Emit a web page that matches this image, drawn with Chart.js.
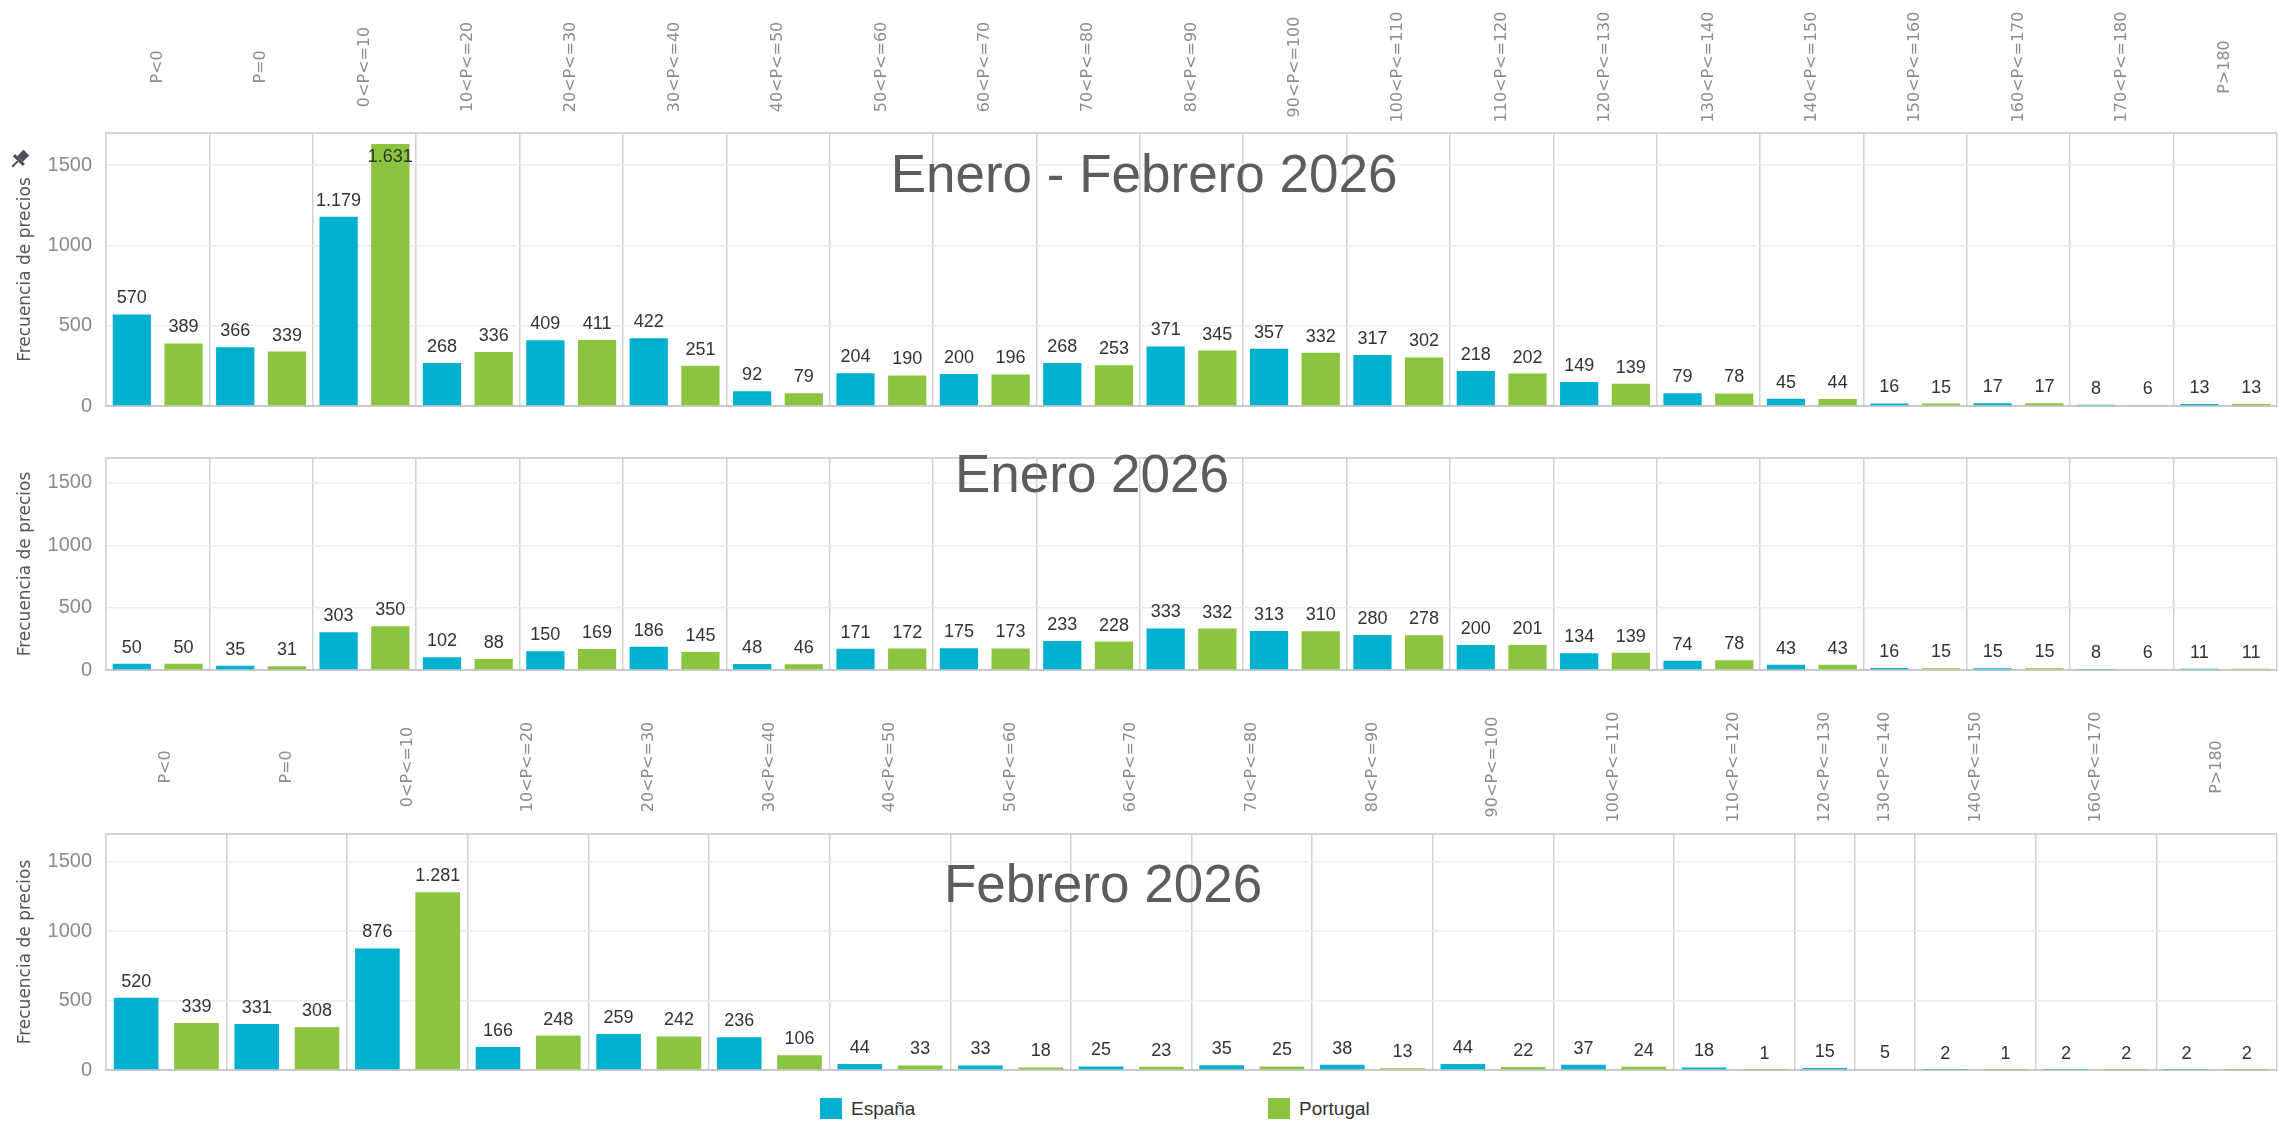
<!DOCTYPE html>
<html lang="es">
<head>
<meta charset="utf-8">
<title>Frecuencia de precios España / Portugal</title>
<script src="https://cdn.jsdelivr.net/npm/chart.js@4.4.1/dist/chart.umd.min.js"></script>
<style>
  html, body { margin: 0; padding: 0; background: #fff; }
  #page { position: relative; width: 2278px; height: 1121px; overflow: hidden; }
  canvas { position: absolute; left: 0; }
  .legend-item { position: absolute; top: 1098px; height: 22px; font: 19px "Liberation Sans", Arial, sans-serif; color: #333; }
  .legend-item .swatch { position: absolute; left: 0; top: 0; width: 22px; height: 21px; }
  .legend-item .text { position: absolute; left: 31px; top: 0; line-height: 22px; white-space: nowrap; }
</style>
</head>
<body>
<div id="page">
  <canvas id="chartTotal" width="2278" height="432" style="top:0px"></canvas>
  <canvas id="chartEnero" width="2278" height="264" style="top:432px"></canvas>
  <canvas id="chartFebrero" width="2278" height="400" style="top:696px"></canvas>
  <div class="legend-item" style="left:820px"><span class="swatch" style="background:#00b0cf"></span><span class="text">España</span></div>
  <div class="legend-item" style="left:1268px"><span class="swatch" style="background:#8bc53f"></span><span class="text">Portugal</span></div>
</div>
<script>
// rangos de precio
const categorias = ["P<0", "P=0", "0<P<=10", "10<P<=20", "20<P<=30", "30<P<=40", "40<P<=50",
  "50<P<=60", "60<P<=70", "70<P<=80", "80<P<=90", "90<P<=100", "100<P<=110", "110<P<=120",
  "120<P<=130", "130<P<=140", "140<P<=150", "150<P<=160", "160<P<=170", "170<P<=180", "P>180"];

// Enero - Febrero 2026
const espanaEneFeb = [570, 366, 1179, 268, 409, 422, 92, 204, 200, 268, 371, 357, 317, 218, 149, 79, 45, 16, 17, 8, 13];
const portugalEneFeb = [389, 339, 1631, 336, 411, 251, 79, 190, 196, 253, 345, 332, 302, 202, 139, 78, 44, 15, 17, 6, 13];

// Enero 2026
const espanaEnero = [50, 35, 303, 102, 150, 186, 48, 171, 175, 233, 333, 313, 280, 200, 134, 74, 43, 16, 15, 8, 11];
const portugalEnero = [50, 31, 350, 88, 169, 145, 46, 172, 173, 228, 332, 310, 278, 201, 139, 78, 43, 15, 15, 6, 11];

// Febrero 2026 (solo los rangos que aparecen)
const categoriasFeb = ["P<0", "P=0", "0<P<=10", "10<P<=20", "20<P<=30", "30<P<=40", "40<P<=50",
  "50<P<=60", "60<P<=70", "70<P<=80", "80<P<=90", "90<P<=100", "100<P<=110", "110<P<=120",
  "120<P<=130", "130<P<=140", "140<P<=150", "160<P<=170", "P>180"];
const espanaFeb = [520, 331, 876, 166, 259, 236, 44, 33, 25, 35, 38, 44, 37, 18, 15, 5, 2, 2, 2];
const portugalFeb = [339, 308, 1281, 248, 242, 106, 33, 18, 23, 25, 13, 22, 24, 1, null, null, 1, 2, 2];

const yTicks = [0, 500, 1000, 1500];

const colorEspana = "#00b0cf";
const colorPortugal = "#8bc53f";
const sepColor = "#d2d2d2";

Chart.defaults.font.family = "'Liberation Sans', Arial, sans-serif";

function formatValue(v) {
  return String(v).replace(/\B(?=(\d{3})+(?!\d))/g, ".");
}

// one slot per bar, so a range with a single bar gets a narrower column
function buildSlots(cats, esp, por) {
  const labels = [], catIdx = [], e = [], p = [];
  cats.forEach((c, i) => {
    if (esp[i] != null) { labels.push(c + "|E"); catIdx.push(i); e.push(esp[i]); p.push(null); }
    if (por[i] != null) { labels.push(c + "|P"); catIdx.push(i); e.push(null); p.push(por[i]); }
  });
  return { labels, catIdx, e, p };
}

const valueLabels = {
  id: "valueLabels",
  afterDatasetsDraw(chart) {
    const ctx = chart.ctx;
    const area = chart.chartArea;
    ctx.save();
    ctx.font = "18px 'Liberation Sans', Arial, sans-serif";
    ctx.fillStyle = "#333";
    ctx.textAlign = "center";
    ctx.textBaseline = "middle";
    chart.data.datasets.forEach((ds, di) => {
      chart.getDatasetMeta(di).data.forEach((bar, i) => {
        const v = ds.data[i];
        if (v == null) return;
        const y = Math.max(bar.y - 16, area.top + 24);
        ctx.fillText(formatValue(v), bar.x, y);
      });
    });
    ctx.restore();
  }
};

// small pin glyph next to the first panel's axis
function drawPin(ctx, x, y) {
  ctx.save();
  ctx.translate(x, y);
  ctx.rotate(Math.PI / 4);
  ctx.fillStyle = "#4a4f57";
  ctx.fillRect(-4, -9, 8, 9);
  ctx.fillRect(-7, 0, 14, 3);
  ctx.fillRect(-1, 3, 2, 8);
  ctx.restore();
}

function makePanel(canvasId, cats, esp, por, cfg) {
  const s = buildSlots(cats, esp, por);

  const decor = {
    id: "decor",
    beforeDatasetsDraw(chart) {
      const ctx = chart.ctx;
      const a = chart.chartArea;
      ctx.save();
      ctx.strokeStyle = "#d4d4d4";
      ctx.lineWidth = 2;
      ctx.beginPath();
      ctx.moveTo(a.left, a.top);
      ctx.lineTo(a.right, a.top);
      ctx.stroke();
      ctx.restore();
    },
    afterDraw(chart) {
      const ctx = chart.ctx;
      const x = chart.scales.x;
      ctx.save();
      // panel title
      ctx.font = "53px 'Liberation Sans', Arial, sans-serif";
      ctx.fillStyle = "#5c5c5c";
      ctx.textAlign = "center";
      ctx.textBaseline = "alphabetic";
      ctx.fillText(cfg.title, cfg.titleX, cfg.titleY);
      if (cfg.pin) drawPin(ctx, 20, chart.chartArea.top + 26);
      // range labels above the panel
      if (cfg.labelY != null) {
        ctx.font = "16px 'DejaVu Sans', sans-serif";
        ctx.fillStyle = "#8c8c8c";
        cats.forEach((c, ci) => {
          const idx = [];
          s.catIdx.forEach((k, j) => { if (k === ci) idx.push(j); });
          if (!idx.length) return;
          const cx = (x.getPixelForValue(idx[0]) + x.getPixelForValue(idx[idx.length - 1])) / 2;
          ctx.save();
          ctx.translate(cx, cfg.labelY);
          ctx.rotate(-Math.PI / 2);
          ctx.textAlign = "center";
          ctx.textBaseline = "middle";
          ctx.fillText(c, 0, 0);
          ctx.restore();
        });
      }
      ctx.restore();
    }
  };

  return new Chart(document.getElementById(canvasId), {
    type: "bar",
    data: {
      labels: s.labels,
      datasets: [
        { label: "España", data: s.e, backgroundColor: colorEspana, grouped: false, barPercentage: 0.74, categoryPercentage: 1 },
        { label: "Portugal", data: s.p, backgroundColor: colorPortugal, grouped: false, barPercentage: 0.74, categoryPercentage: 1 }
      ]
    },
    options: {
      responsive: false,
      animation: false,
      layout: { padding: { top: cfg.padTop, right: 1, left: 0, bottom: 0 } },
      plugins: {
        legend: { display: false },
        tooltip: { enabled: false }
      },
      scales: {
        x: {
          type: "category",
          offset: true,
          ticks: { display: false },
          grid: {
            offset: true,
            drawTicks: false,
            lineWidth: 1.5,
            color: (ctx) => {
              if (ctx.type !== "tick") return sepColor;
              const i = ctx.index;
              return (i === 0 || s.catIdx[i] !== s.catIdx[i - 1]) ? sepColor : "rgba(0,0,0,0)";
            }
          },
          border: { display: true, color: "#c8c8c8", width: 2 },
          afterFit: (sc) => { sc.height = cfg.axisH; }
        },
        y: {
          min: 0,
          max: 1700,
          afterBuildTicks: (sc) => { sc.ticks = yTicks.map(v => ({ value: v })); },
          ticks: {
            padding: 14,
            color: "#8a8a8a",
            font: { size: 20 },
            callback: (v) => String(v)
          },
          grid: { color: "#eeeeee", drawTicks: false, lineWidth: 1.5 },
          border: { display: true, color: "#d4d4d4", width: 1.5 },
          title: {
            display: true,
            text: "Frecuencia de precios",
            color: "#555",
            font: { family: "'DejaVu Sans', sans-serif", size: 17 },
            padding: { top: 15, bottom: 0 }
          },
          afterFit: (sc) => { sc.width = 106; }
        }
      }
    },
    plugins: [valueLabels, decor]
  });
}

makePanel("chartTotal", categorias, espanaEneFeb, portugalEneFeb,
  { title: "Enero - Febrero 2026", titleX: 1144, titleY: 192, labelY: 67, padTop: 133, axisH: 7, pin: true });
makePanel("chartEnero", categorias, espanaEnero, portugalEnero,
  { title: "Enero 2026", titleX: 1092, titleY: 60, labelY: null, padTop: 8, axisH: 4 });
makePanel("chartFebrero", categoriasFeb, espanaFeb, portugalFeb,
  { title: "Febrero 2026", titleX: 1103, titleY: 206, labelY: 71, padTop: 138, axisH: 17 });
</script>
</body>
</html>
